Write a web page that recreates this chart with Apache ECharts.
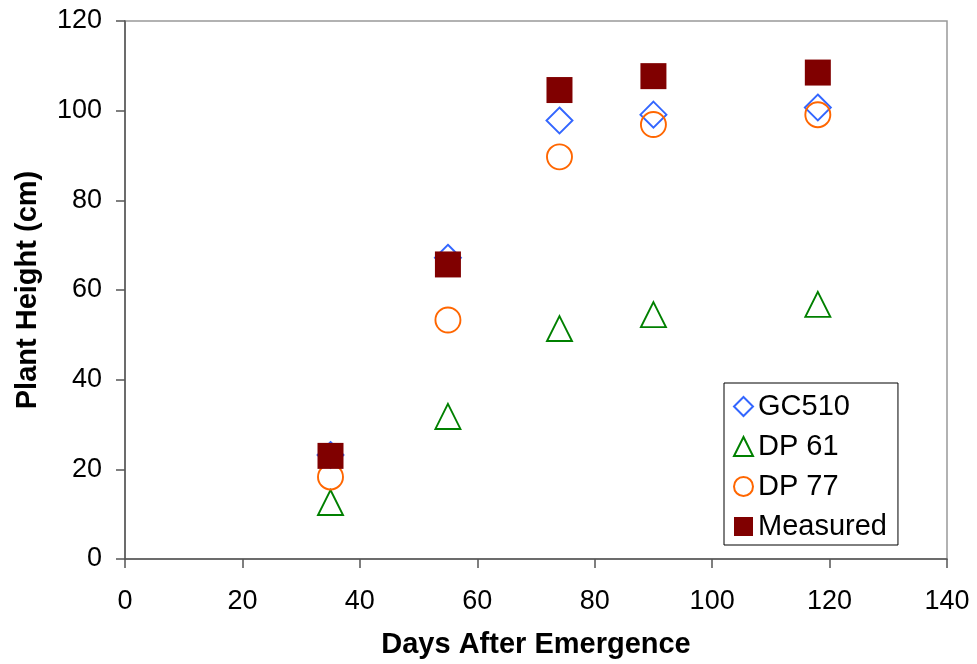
<!DOCTYPE html>
<html>
<head>
<meta charset="utf-8">
<script src="https://cdn.jsdelivr.net/npm/echarts@6/dist/echarts.min.js"></script>
<style>
  html, body { margin: 0; padding: 0; background: #fff; }
  #chart { width: 977px; height: 664px; }
</style>
</head>
<body>
<div id="chart"></div>
<script>
// Days after emergence at which plant height was sampled
const days = [35, 55, 74, 90, 118];

// Simulated plant heights (cm) for each cultivar, plus field measurements
const gc510 = [23.2, 67.2, 97.8, 99.1, 100.7];
const dp61 = [12.6, 31.8, 51.4, 54.5, 56.8];
const dp77 = [18.3, 53.3, 89.7, 96.9, 99.1];
const measured = [23.0, 65.7, 104.6, 107.7, 108.5];

const xTicks = [0, 20, 40, 60, 80, 100, 120, 140];
const yTicks = [0, 20, 40, 60, 80, 100, 120];

const FONT = 'Liberation Sans, Arial, sans-serif';
const AXIS_COLOR = '#555';

function pairs(values) {
  return days.map((d, i) => [d, values[i]]);
}

function hollow(name, values, symbol, size, color) {
  return {
    name: name,
    type: 'scatter',
    data: pairs(values),
    symbol: symbol,
    symbolSize: size,
    itemStyle: { color: 'rgba(255,255,255,0)', borderColor: color, borderWidth: 1.9, opacity: 1 },
    emphasis: { disabled: true },
    z: 3
  };
}

const chart = echarts.init(document.getElementById('chart'), null, { renderer: 'canvas' });

chart.setOption({
  animation: false,
  backgroundColor: '#fff',
  grid: {
    left: 125, right: 30, top: 21, bottom: 104,
    show: true, borderColor: '#999', borderWidth: 1.5, backgroundColor: 'transparent'
  },
  legend: {
    orient: 'vertical',
    left: 724, top: 383,
    padding: [9, 11, 4, 9],
    itemGap: 11,
    itemWidth: 19, itemHeight: 19,
    borderColor: '#000', borderWidth: 1,
    backgroundColor: '#fff',
    textStyle: { fontFamily: FONT, fontSize: 29, color: '#000' },
    data: ['GC510', 'DP 61', 'DP 77', 'Measured']
  },
  xAxis: {
    type: 'value',
    min: xTicks[0], max: xTicks[xTicks.length - 1], interval: 20,
    name: 'Days After Emergence',
    nameLocation: 'middle', nameGap: 71,
    nameTextStyle: { fontFamily: FONT, fontSize: 29, fontWeight: 'bold', color: '#000' },
    axisLine: { show: true, onZero: false, lineStyle: { color: AXIS_COLOR, width: 1.5 } },
    axisTick: { show: true, inside: false, length: 9, lineStyle: { color: AXIS_COLOR, width: 1.5 } },
    axisLabel: { margin: 29, fontFamily: FONT, fontSize: 27, color: '#000' },
    splitLine: { show: false }
  },
  yAxis: {
    type: 'value',
    min: yTicks[0], max: yTicks[yTicks.length - 1], interval: 20,
    name: 'Plant Height (cm)',
    nameLocation: 'middle', nameGap: 83, nameRotate: 90,
    nameTextStyle: { fontFamily: FONT, fontSize: 29, fontWeight: 'bold', color: '#000' },
    axisLine: { show: true, onZero: false, lineStyle: { color: AXIS_COLOR, width: 1.5 } },
    axisTick: { show: true, inside: false, length: 9, lineStyle: { color: AXIS_COLOR, width: 1.5 } },
    axisLabel: { margin: 23, fontFamily: FONT, fontSize: 27, color: '#000' },
    splitLine: { show: false }
  },
  series: [
    hollow('GC510', gc510, 'diamond', 26, '#3366FF'),
    hollow('DP 61', dp61, 'triangle', 25, '#008000'),
    hollow('DP 77', dp77, 'circle', 25, '#FF6600'),
    {
      name: 'Measured',
      type: 'scatter',
      data: pairs(measured),
      symbol: 'rect',
      symbolSize: 26,
      itemStyle: { color: '#800000', opacity: 1 },
      emphasis: { disabled: true },
      z: 4
    }
  ]
});
</script>
</body>
</html>
